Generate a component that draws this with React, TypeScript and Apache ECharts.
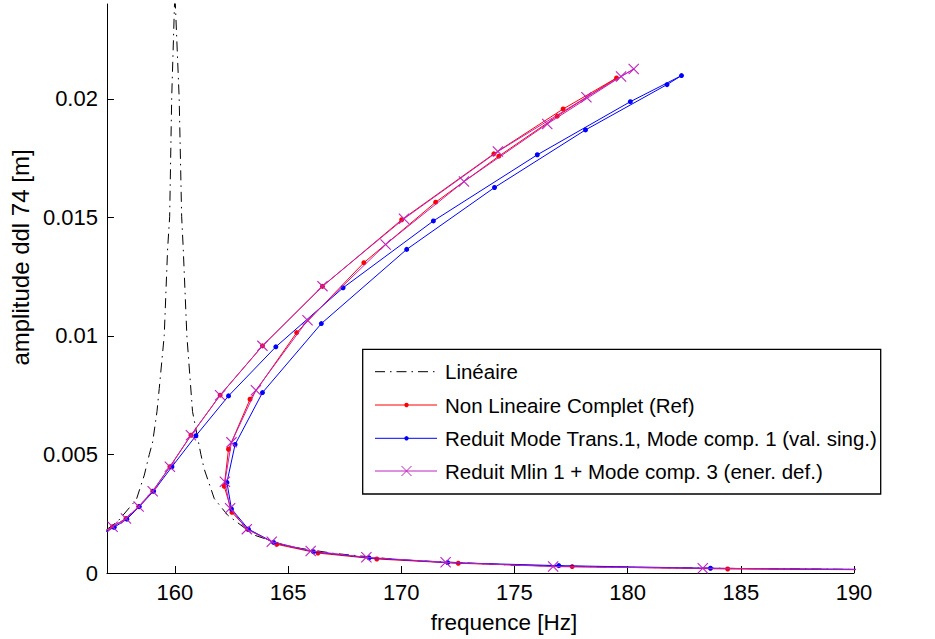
import { useEffect, useRef } from 'react';
import * as echarts from 'echarts';

const xTicks = [160, 165, 170, 175, 180, 185, 190];
const yTicks = [0, 0.005, 0.01, 0.015, 0.02];
const yTickLabels = ['0', '0.005', '0.01', '0.015', '0.02'];

const seriesNames = [
  'Linéaire',
  'Non Lineaire Complet (Ref)',
  'Reduit Mode Trans.1, Mode comp. 1 (val. sing.)',
  'Reduit Mlin 1 + Mode comp. 3 (ener. def.)',
];

const linFreq = [157.0, 157.47, 158.3, 158.65, 158.87, 159.02, 159.21, 159.31, 159.53, 159.68, 159.77, 159.86, 160.0,
  160.19, 160.3, 160.37, 160.53, 160.78, 161.15, 161.29, 161.74, 162.33, 163.5, 165.0, 167.0, 170.0, 175.0, 180.0, 185.0, 190.0];
const linAmp = [0.00184, 0.00217, 0.0031, 0.00413, 0.005, 0.00553, 0.00681, 0.00778, 0.01001, 0.01368, 0.01503, 0.02004, 0.0245,
  0.02004, 0.01503, 0.01368, 0.01001, 0.00681, 0.005, 0.0044, 0.00314, 0.00244, 0.0016, 0.00112, 0.00083, 0.00055, 0.00033, 0.00024, 0.00019, 0.00015];

const redFreq = [156.65, 157.25, 157.84, 158.4, 159.02, 159.78, 160.71, 162.0, 163.87, 166.52, 170.02, 174.09, 177.15, 179.51,
  176.89, 174.31, 171.52, 168.35, 165.38, 163.32, 162.37, 162.18, 162.52, 163.22, 164.5, 166.32, 168.92, 172.52, 177.55, 184.42, 193.9];
const redAmp = [0.00164, 0.00195, 0.0023, 0.0028, 0.00345, 0.00448, 0.00581, 0.0075, 0.00958, 0.01209, 0.0149, 0.01768, 0.01957, 0.02088,
  0.01927, 0.01758, 0.01564, 0.01309, 0.01014, 0.00733, 0.00522, 0.00366, 0.00256, 0.00184, 0.00121, 0.00084, 0.00059, 0.00041, 0.00027, 0.00017, 0.00012];

const blueFreq = [156.7, 157.32, 157.88, 158.43, 159.06, 159.87, 160.93, 162.37, 164.46, 167.43, 171.42, 176.01, 180.12, 182.38,
  181.74, 178.14, 174.12, 170.24, 166.47, 163.87, 162.66, 162.3, 162.5, 163.25, 164.36, 166.12, 168.58, 172.05, 176.96, 183.66, 193.5];
const blueAmp = [0.00162, 0.00193, 0.00227, 0.0028, 0.00345, 0.00448, 0.00579, 0.00747, 0.00954, 0.01203, 0.01485, 0.01764, 0.01988, 0.02098,
  0.0206, 0.01869, 0.01626, 0.01365, 0.01052, 0.00761, 0.00542, 0.00382, 0.0027, 0.00185, 0.00129, 0.0009, 0.00064, 0.00044, 0.00031, 0.0002, 0.00013];

const magFreq = [156.65, 157.25, 157.84, 158.4, 159.02, 159.78, 160.71, 162.0, 163.87, 166.52, 170.12, 174.27, 178.18, 180.27,
  179.71, 176.45, 172.77, 169.31, 165.86, 163.58, 162.5, 162.21, 162.44, 163.18, 164.28, 166.0, 168.46, 171.96, 176.71, 183.32, 193.0];
const magAmp = [0.00164, 0.00195, 0.0023, 0.0028, 0.00345, 0.00448, 0.00581, 0.0075, 0.00958, 0.0121, 0.01494, 0.01778, 0.02007, 0.02126,
  0.02094, 0.01894, 0.01651, 0.01386, 0.01066, 0.00771, 0.00551, 0.00385, 0.00273, 0.00185, 0.00132, 0.00093, 0.00066, 0.00045, 0.00027, 0.0002, 0.00013];

const FONT = '"Liberation Sans", Arial, Helvetica, sans-serif';
const RED = '#ff0000';
const BLUE = '#0000ff';
const MAG = '#c020c0';
const CROSS = 'path://M0,7L7,0L50,43L93,0L100,7L57,50L100,93L93,100L50,57L7,100L0,93L43,50Z';
const DASHDOT = [10, 5, 1.5, 5];

const zip = (a: number[], b: number[]) => a.map((v, i) => [v, b[i]]);

export default function App() {
  const ref = useRef<HTMLDivElement>(null);
  useEffect(() => {
    const chart = echarts.init(ref.current!, null, { renderer: 'svg' });
    const rows = [371.7, 405, 438.3, 471];
    const lx0 = 375, lx1 = 437, mx = 406.5;
    const legendGraphics: any[] = [
      { type: 'rect', shape: { x: 362.7, y: 349.3, width: 518, height: 144.7 }, style: { fill: '#fff', stroke: '#000', lineWidth: 1.3 }, z: 100 },
      { type: 'line', shape: { x1: lx0, y1: rows[0], x2: lx1, y2: rows[0] }, style: { stroke: '#000', lineWidth: 1, lineDash: DASHDOT }, z: 101 },
      { type: 'line', shape: { x1: lx0, y1: rows[1], x2: lx1, y2: rows[1] }, style: { stroke: RED, lineWidth: 1 }, z: 101 },
      { type: 'circle', shape: { cx: mx, cy: rows[1], r: 2.2 }, style: { fill: RED }, z: 102 },
      { type: 'line', shape: { x1: lx0, y1: rows[2], x2: lx1, y2: rows[2] }, style: { stroke: BLUE, lineWidth: 1 }, z: 101 },
      { type: 'circle', shape: { cx: mx, cy: rows[2], r: 2.2 }, style: { fill: BLUE }, z: 102 },
      { type: 'line', shape: { x1: lx0, y1: rows[3], x2: lx1, y2: rows[3] }, style: { stroke: MAG, lineWidth: 1 }, z: 101 },
      { type: 'line', shape: { x1: mx - 5, y1: rows[3] - 5, x2: mx + 5, y2: rows[3] + 5 }, style: { stroke: MAG, lineWidth: 1 }, z: 102 },
      { type: 'line', shape: { x1: mx - 5, y1: rows[3] + 5, x2: mx + 5, y2: rows[3] - 5 }, style: { stroke: MAG, lineWidth: 1 }, z: 102 },
      ...seriesNames.map((n, i) => ({
        type: 'text', x: 445, y: rows[i], z: 102,
        style: { text: n, fontSize: 20.5, fontFamily: FONT, fill: '#000', verticalAlign: 'middle', align: 'left' },
      })),
    ];
    const axisCommon = {
      axisLine: { show: true, onZero: false, lineStyle: { color: '#000', width: 1 } },
      splitLine: { show: false },
    };
    chart.setOption({
      animation: false,
      backgroundColor: '#fff',
      grid: { left: 106, right: 81, top: 4, bottom: 64, containLabel: false },
      xAxis: {
        type: 'value', min: 157, max: 190,
        ...axisCommon,
        axisTick: { show: true, inside: true, length: 7, customValues: xTicks, lineStyle: { color: '#000' } },
        axisLabel: { customValues: xTicks, color: '#000', fontSize: 22, fontFamily: FONT, margin: 8 },
        name: 'frequence [Hz]', nameLocation: 'middle', nameGap: 38,
        nameTextStyle: { color: '#000', fontSize: 22.5, fontFamily: FONT, padding: [0, 0, 0, 47] },
      },
      yAxis: {
        type: 'value', min: 0, max: 0.024,
        ...axisCommon,
        axisTick: { show: true, inside: true, length: 7, customValues: yTicks, lineStyle: { color: '#000' } },
        axisLabel: {
          customValues: yTicks, color: '#000', fontSize: 22, fontFamily: FONT, margin: 9,
          formatter: (v: number) => {
            const i = yTicks.findIndex((t) => Math.abs(t - v) < 1e-9);
            return i >= 0 ? yTickLabels[i] : '';
          },
        },
        name: 'amplitude ddl 74 [m]', nameLocation: 'middle', nameRotate: 90, nameGap: 73,
        nameTextStyle: { color: '#000', fontSize: 24, fontFamily: FONT, padding: [0, 0, 0, 62] },
      },
      series: [
        { name: seriesNames[0], type: 'line', data: zip(linFreq, linAmp), symbol: 'none', silent: true,
          lineStyle: { color: '#000', width: 1, type: DASHDOT }, z: 2 },
        { name: seriesNames[1], type: 'line', data: zip(redFreq, redAmp), symbol: 'circle', symbolSize: 5, silent: true,
          itemStyle: { color: RED }, lineStyle: { color: RED, width: 1 }, z: 3 },
        { name: seriesNames[2], type: 'line', data: zip(blueFreq, blueAmp), symbol: 'circle', symbolSize: 5, silent: true,
          itemStyle: { color: BLUE }, lineStyle: { color: BLUE, width: 1 }, z: 4 },
        { name: seriesNames[3], type: 'line', data: zip(magFreq, magAmp), symbol: CROSS, symbolSize: 11, silent: true,
          itemStyle: { color: MAG }, lineStyle: { color: MAG, width: 1 }, z: 5 },
      ],
      graphic: { elements: legendGraphics },
    });
    return () => chart.dispose();
  }, []);
  return <div ref={ref} style={{ position: 'fixed', left: 0, top: 0, width: 935, height: 639 }} />;
}
